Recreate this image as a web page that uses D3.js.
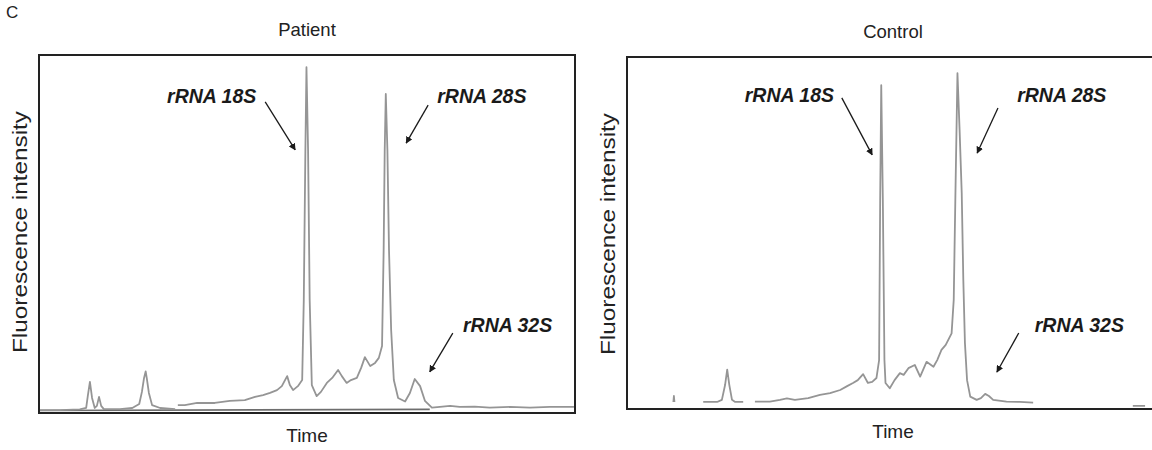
<!DOCTYPE html>
<html lang="en">
  <head>
    <meta charset="UTF-8" />
    <title>rRNA electropherogram</title>
    <script src="https://d3js.org/d3.v7.min.js"></script>
    <style>
      body { margin: 0; background: #fff; }
      svg { display: block; }
      .title, .axis-label { font-family: "Liberation Sans", Arial, sans-serif; fill: #222; }
      .peak-label { font-family: "Liberation Sans", Arial, sans-serif; font-weight: bold; font-style: italic; fill: #1a1a1a; }
    </style>
  </head>
  <body>
    <svg id="chart" width="1152" height="450"></svg>
    <script>
      // panel names and axis text
      const panelTitles = ["Patient", "Control"];
      const xAxisTitle = "Time";
      const yAxisTitle = "Fluorescence intensity";
      const peakNames = ["rRNA 18S", "rRNA 28S", "rRNA 32S"];

      // patient trace (time in % of run, intensity in % of full scale), null = gap
      const patientTime = [0, 3.9, 7.6, 8.8, 9.1, 9.5, 9.9, 10.4, 10.8, 11.2, 11.6, 12.1, 15.1, 17.4, 18.7, 19.2, 19.6, 19.9, 20.1, 20.5, 21.1, 22.6, 25.4,
        25.6,
        25.9, 27.2, 29.5, 32.8, 35.6, 38.4, 40.3, 41.8, 43.1, 44.4, 45.3, 46.3, 46.8, 47.4, 48.3, 49.1, 49.4, 49.7, 49.9, 50.2, 50.5, 50.9,
        51.8, 52.6, 53.7, 54.7, 55.8, 56.5, 57.4, 58.2, 59.3, 60.1, 60.8, 61.8, 62.7, 63.4, 64.0, 64.3, 64.5, 64.7, 65.0, 65.3, 65.7, 66.2,
        67.0, 68.3, 69.2, 70.1, 71.1, 72.0, 73.3, 74.8, 76.7, 78.5, 81.3, 84.1, 87.9, 91.6, 95.3, 99.8];
      const patientSignal = [0.8, 0.8, 1.0, 1.4, 4.7, 8.7, 4.2, 1.4, 2.0, 4.5, 2.0, 1.1, 1.1, 1.4, 2.5, 5.9, 9.8, 11.6, 9.8, 5.6, 2.2, 1.4, 1.1,
        null,
        2.2, 2.2, 2.8, 2.8, 3.4, 3.6, 4.5, 5.0, 5.6, 6.4, 7.5, 10.3, 7.8, 6.4, 7.5, 9.2, 31.6, 73.5, 96.6, 73.5, 31.6, 7.8,
        4.7, 5.9, 8.4, 9.8, 12.0, 10.3, 8.4, 9.2, 9.8, 12.6, 15.6, 13.1, 14.0, 15.4, 18.7, 45.5, 73.5, 89.1, 73.5, 45.5, 23.2, 9.2,
        4.2, 3.2, 5.6, 9.5, 7.5, 3.4, 1.5, 1.7, 2.0, 1.7, 1.8, 1.5, 1.7, 1.5, 1.7, 1.7];
      // flat detector baseline under the patient run
      const patientBaseTime = [0, 72.9];
      const patientBaseSignal = [0.7, 1.0];

      // control trace
      const controlTime = [8.7, 8.8, 8.9,
        9.0,
        14.3, 16.9, 17.8, 18.4, 18.8, 19.2, 19.7, 20.3, 21.8,
        22.5,
        24.0, 26.8, 28.7, 30.0, 31.5, 34.0, 36.2, 38.1, 40.0, 41.3, 42.4, 43.3, 44.3, 45.2, 46.0, 46.8, 47.3, 47.5, 47.7, 48.0, 48.3, 48.5,
        49.3, 50.2, 51.2, 51.9, 52.8, 54.0, 55.0, 56.2, 57.5, 58.2, 59.0, 59.8, 60.9, 61.3, 61.6, 62.0, 62.4, 62.8, 63.1, 63.4, 63.8, 64.4,
        65.6, 66.4, 67.2, 67.9, 68.7, 71.2, 73.7, 76.2,
        80.0,
        94.9, 97.2];
      const controlSignal = [2.0, 3.7, 2.0,
        null,
        2.0, 2.0, 2.6, 6.8, 11.2, 6.8, 2.6, 2.0, 2.0,
        null,
        2.1, 2.1, 2.6, 3.0, 2.6, 3.1, 4.0, 4.5, 5.4, 6.5, 7.4, 8.2, 9.9, 7.4, 7.7, 8.8, 13.9, 59.4, 92.0, 59.4, 13.9, 7.4,
        5.9, 8.2, 10.2, 9.7, 11.6, 12.5, 9.2, 13.4, 12.0, 13.9, 16.8, 18.2, 21.5, 31.0, 59.4, 95.4, 79.3, 61.4, 36.6, 18.8, 8.2, 3.5,
        2.6, 3.1, 4.3, 3.7, 2.6, 2.1, 2.0, 1.8,
        null,
        0.9, 0.9];

      const svg = d3.select("#chart");

      // panel layout in pixels, annotation anchors in data units
      const panels = [
        {
          title: panelTitles[0], left: 39, right: 575, top: 55, bottom: 413, midX: 307,
          yLabelX: 27, yLabelY: 232,
          time: patientTime, signal: patientSignal,
          baseTime: patientBaseTime, baseSignal: patientBaseSignal,
          notes: [
            { text: peakNames[0], tx: 23.9, ty: 86.6, from: [42.2, 86.9], to: [47.8, 73.5] },
            { text: peakNames[1], tx: 74.3, ty: 86.6, from: [72.6, 86.0], to: [68.5, 75.4] },
            { text: peakNames[2], tx: 79.1, ty: 22.6, from: [77.2, 22.3], to: [72.9, 11.5] }
          ]
        },
        {
          title: panelTitles[1], left: 627, right: 1160, top: 57, bottom: 409, midX: 893,
          yLabelX: 615, yLabelY: 234,
          time: controlTime, signal: controlSignal,
          baseTime: null, baseSignal: null,
          notes: [
            { text: peakNames[0], tx: 22.1, ty: 87.2, from: [40.3, 88.4], to: [46.0, 72.2] },
            { text: peakNames[1], tx: 73.2, ty: 87.2, from: [69.6, 85.5], to: [65.7, 72.7] },
            { text: peakNames[2], tx: 76.5, ty: 21.9, from: [73.5, 21.6], to: [69.4, 10.5] }
          ]
        }
      ];

      svg.append("defs").append("marker")
        .attr("id", "arrow")
        .attr("viewBox", "0 0 10 10")
        .attr("refX", 9).attr("refY", 5)
        .attr("markerWidth", 7).attr("markerHeight", 7)
        .attr("markerUnits", "userSpaceOnUse")
        .attr("orient", "auto")
        .append("path")
        .attr("d", "M0,0 L10,5 L0,10 z")
        .attr("fill", "#1a1a1a");

      // panel letter
      svg.append("text")
        .attr("class", "title")
        .attr("x", 6).attr("y", 18)
        .style("font-size", "17px")
        .text("C");

      panels.forEach(p => {
        const x = d3.scaleLinear().domain([0, 100]).range([p.left, p.right]);
        const y = d3.scaleLinear().domain([0, 100]).range([p.bottom, p.top]);
        const g = svg.append("g");

        g.append("text")
          .attr("class", "title")
          .attr("x", p.midX).attr("y", p.top - 19)
          .attr("text-anchor", "middle")
          .style("font-size", "18.5px")
          .text(p.title);

        g.append("text")
          .attr("class", "axis-label")
          .attr("x", p.midX).attr("y", p.bottom + 29)
          .attr("text-anchor", "middle")
          .style("font-size", "19px")
          .text(xAxisTitle);

        g.append("text")
          .attr("class", "axis-label")
          .attr("transform", `translate(${p.yLabelX},${p.yLabelY}) rotate(-90)`)
          .attr("text-anchor", "middle")
          .attr("textLength", 242)
          .attr("lengthAdjust", "spacingAndGlyphs")
          .style("font-size", "21px")
          .text(yAxisTitle);

        const line = d3.line()
          .defined(d => d[1] != null)
          .x(d => x(d[0]))
          .y(d => y(d[1]));

        if (p.baseTime) {
          g.append("path")
            .attr("d", line(d3.zip(p.baseTime, p.baseSignal)))
            .attr("fill", "none")
            .attr("stroke", "#6e6e6e")
            .attr("stroke-width", 1.6);
        }

        g.append("path")
          .attr("d", line(d3.zip(p.time, p.signal)))
          .attr("fill", "none")
          .attr("stroke", "#959595")
          .attr("stroke-width", 1.8)
          .attr("stroke-linejoin", "round");

        g.append("rect")
          .attr("x", p.left).attr("y", p.top)
          .attr("width", p.right - p.left).attr("height", p.bottom - p.top)
          .attr("fill", "none")
          .attr("stroke", "#222")
          .attr("stroke-width", 2);

        p.notes.forEach(n => {
          g.append("text")
            .attr("class", "peak-label")
            .attr("x", x(n.tx)).attr("y", y(n.ty))
            .style("font-size", "19.5px")
            .text(n.text);
          g.append("line")
            .attr("x1", x(n.from[0])).attr("y1", y(n.from[1]))
            .attr("x2", x(n.to[0])).attr("y2", y(n.to[1]))
            .attr("stroke", "#1a1a1a")
            .attr("stroke-width", 1.3)
            .attr("marker-end", "url(#arrow)");
        });
      });
    </script>
  </body>
</html>
